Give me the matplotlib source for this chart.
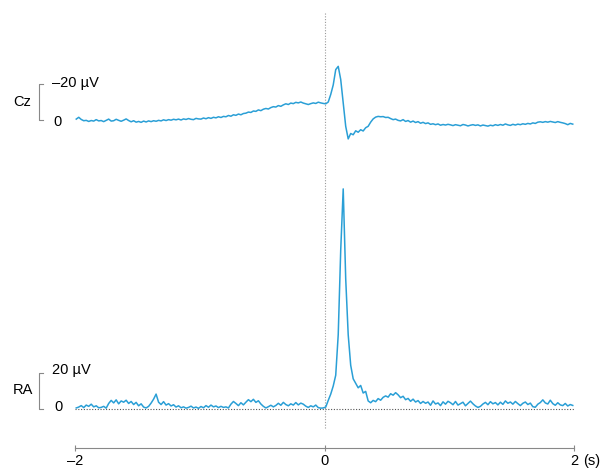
import numpy as np
import matplotlib
matplotlib.use("Agg")
import matplotlib.pyplot as plt

plt.rcParams['font.family'] = ['Liberation Sans', 'DejaVu Sans']

# sample times (s): 200 samples, every 0.02 s from -1.99 to 1.99
t = np.linspace(-1.99, 1.99, 200)

# Cz trace in microvolts (negative plotted upward)
cz_uv = [
    -0.5, -1.5, -0.3, 0.4, 0.2, 0.8, 0.3, 0.6, -0.2, 0.5,
    0.3, 0.9, 0.2, -0.5, 0.6, 0.4, -0.4, 0.2, 0.7, 0.1,
    -0.6, 0.3, 1.0, 0.4, 1.2, 0.8, 1.3, 0.6, 1.1, 0.5,
    0.9, 0.4, 0.7, 0.2, 0.5, -0.1, 0.3, -0.2, 0.1, -0.4,
    -0.1, -0.5, 0.0, -0.6, -0.3, -0.8, -0.4, -0.2, -0.9, -0.6,
    -0.5, -1.1, -0.7, -1.3, -0.9, -1.5, -1.2, -1.8, -1.4, -2.0,
    -1.8, -2.5, -2.1, -2.9, -2.6, -3.3, -2.9, -3.6, -3.8, -4.4,
    -4.2, -5.0, -4.8, -5.6, -5.2, -6.0, -6.4, -6.1, -6.9, -7.4,
    -7.2, -8.0, -7.6, -8.4, -9.0, -8.6, -9.4, -9.1, -9.8, -9.5,
    -10.0, -9.4, -9.0, -8.6, -9.1, -9.5, -9.2, -9.9, -9.5, -9.2,
    -9.0, -10.0, -14.2, -19.5, -28.0, -29.8, -22.5, -9.5, 3.5, 10.5,
    7.5, 8.2, 6.0, 6.8, 5.4, 6.1, 4.3, 3.5, 1.2, -0.6,
    -1.6, -2.0, -1.8, -1.9, -1.4, -1.5, -0.8, -0.2, -0.5, 0.2,
    0.5, -0.2, 0.8, 0.3, 1.2, 0.6, 1.4, 0.9, 1.8, 1.3,
    2.0, 1.6, 2.4, 2.1, 2.6, 2.2, 2.9, 2.5, 2.8, 2.4,
    2.7, 3.1, 2.6, 2.9, 3.2, 2.5, 2.8, 3.3, 2.9, 2.6,
    3.0, 2.7, 3.3, 2.8, 3.1, 3.4, 2.9, 3.2, 2.6, 3.0,
    2.5, 2.9, 2.2, 2.7, 3.0, 2.4, 2.8, 2.3, 2.6, 2.1,
    2.4, 1.9, 2.2, 1.6, 1.9, 1.2, 1.0, 1.3, 0.9, 1.2,
    0.8, 1.1, 1.4, 0.9, 1.3, 1.6, 2.0, 2.6, 1.9, 2.3,
]

# RA trace in microvolts (positive plotted upward)
ra_uv = [
    0.3, 0.8, 1.6, 0.5, 1.9, 1.2, 2.4, 0.9, 1.5, 0.4,
    0.6, 1.2, 0.2, 2.8, 4.5, 3.1, 4.8, 2.6, 4.2, 3.5,
    4.6, 2.8, 3.9, 2.2, 3.4, 1.5, 2.6, 0.8, 0.3, 1.2,
    3.0, 5.2, 8.0, 3.5, 2.2, 3.8, 1.9, 2.7, 1.4, 2.1,
    0.8, 1.5, 0.4, 0.9, 0.2, 0.6, 1.3, 0.3, 0.8, 0.1,
    1.1, 0.4, 1.6, 0.7, 1.9, 0.9, 1.4, 0.5, 1.2, 0.6,
    0.9, 0.3, 2.4, 3.9, 2.8, 1.6, 3.2, 2.0, 3.5, 4.9,
    3.8, 5.1, 3.4, 4.3, 2.5, 1.2, 0.3, 1.0, 1.8, 0.9,
    1.7, 2.9, 1.8, 3.4, 2.2, 1.5, 2.6, 1.9, 3.3, 2.0,
    3.0, 2.4, 1.3, 0.6, 1.5, 0.9, 1.9, 0.5, 0.2, 0.3,
    0.8, 4.5, 8.0, 12.5, 18.5, 41.0, 88.0, 122.0, 72.0, 41.0,
    24.0, 16.5, 14.0, 11.5, 12.8, 8.6, 9.5, 4.2, 3.2, 4.5,
    3.8, 5.5, 4.6, 6.2, 7.0, 6.3, 8.2, 7.4, 8.8, 7.6,
    6.0, 6.8, 4.9, 5.6, 4.0, 5.2, 3.6, 4.4, 2.8, 3.9,
    2.9, 3.6, 1.8, 4.2, 2.5, 3.1, 1.6, 3.7, 2.4, 4.0,
    3.2, 2.1, 3.9, 1.9, 2.7, 3.5, 1.5, 2.8, 4.1, 2.6,
    1.4, 0.6, 1.2, 2.5, 3.4, 2.1, 3.8, 2.6, 3.3, 2.0,
    3.5, 2.3, 4.2, 2.9, 3.6, 2.4, 3.9, 2.7, 1.6, 2.9,
    3.6, 2.2, 3.0, 1.0, 0.7, 2.4, 3.3, 4.8, 3.1, 2.5,
    4.6, 2.7, 1.8, 3.2, 2.0, 1.6, 2.8, 1.4, 2.2, 1.7,
]

x_ticks = [-2, 0, 2]
x_ticklabels = ['\u20132', '0', '2']

W, H = 601, 468
PX_PER_UV = 1.8
RA_ZERO_PX = 408.5
CZ_ZERO_PX = 120.0
CZ_OFFSET = (RA_ZERO_PX - CZ_ZERO_PX) / PX_PER_UV
AX_LEFT, AX_RIGHT, AX_TOP, AX_BOTTOM = 75, 574, 12, 448

fig = plt.figure(figsize=(W / 100, H / 100), dpi=100)
ax = fig.add_axes([AX_LEFT / W, (H - AX_BOTTOM) / H,
                   (AX_RIGHT - AX_LEFT) / W, (AX_BOTTOM - AX_TOP) / H])
ax.set_xlim(-2, 2)
ylo = (RA_ZERO_PX - AX_BOTTOM) / PX_PER_UV
yhi = (RA_ZERO_PX - AX_TOP) / PX_PER_UV
ax.set_ylim(ylo, yhi)

col = '#2a9fd6'
ax.plot(t, CZ_OFFSET - np.array(cz_uv), color=col, lw=1.1, zorder=3)
ax.plot(t, np.array(ra_uv), color=col, lw=1.1, zorder=3)

# stimulus line and RA baseline
ax.plot([0, 0], [(RA_ZERO_PX - 428) / PX_PER_UV, yhi], color='#9a9a9a',
        lw=0.8, dashes=(1, 1.5), zorder=1)
ax.plot([-2, 2], [0, 0], color='#555555', lw=0.8, dashes=(1, 1.5), zorder=1)

for s in ['top', 'right', 'left']:
    ax.spines[s].set_visible(False)
ax.spines['bottom'].set_color('#888888')
ax.spines['bottom'].set_linewidth(0.8)
ax.set_yticks([])
ax.set_xticks(x_ticks)
ax.set_xticklabels(x_ticklabels)
PAD = 2.5
ax.tick_params(axis='x', direction='inout', length=4, width=0.8,
               color='#888888', pad=PAD, labelsize=10.5)

# unit after the last tick label, aligned with tick labels
ax.annotate('(s)', xy=(2, 0), xycoords=ax.get_xaxis_transform(),
            xytext=(6.5, -(2 + PAD)), textcoords='offset points',
            fontsize=10.5, ha='left', va='top', annotation_clip=False)

def px2t(px):
    return (px - AX_LEFT) / (AX_RIGHT - AX_LEFT) * 4 - 2

# scale brackets
bx = px2t(39.3)
bx2 = px2t(42.5)
for base, top_uv in [(CZ_OFFSET, CZ_OFFSET + 20), (0, 20)]:
    ax.plot([bx2, bx, bx, bx2], [top_uv, top_uv, base, base], color='#888888',
            lw=0.8, clip_on=False)

fs = 10.5
ax.text(px2t(22), CZ_OFFSET + 10, 'Cz', fontsize=fs, ha='center', va='center', clip_on=False)
ax.text(px2t(51.5), CZ_OFFSET + 20.4, '\u201320 \u00b5V', fontsize=fs, ha='left', va='center', clip_on=False)
ax.text(px2t(53), CZ_OFFSET - 1.0, '0', fontsize=fs, ha='left', va='center', clip_on=False)
ax.text(px2t(22.5), 10, 'RA', fontsize=fs, ha='center', va='center', clip_on=False)
ax.text(px2t(52.5), 21.5, '20 \u00b5V', fontsize=fs, ha='left', va='center', clip_on=False)
ax.text(px2t(54.5), 0.6, '0', fontsize=fs, ha='left', va='center', clip_on=False)

fig.savefig('out.png', dpi=100)
